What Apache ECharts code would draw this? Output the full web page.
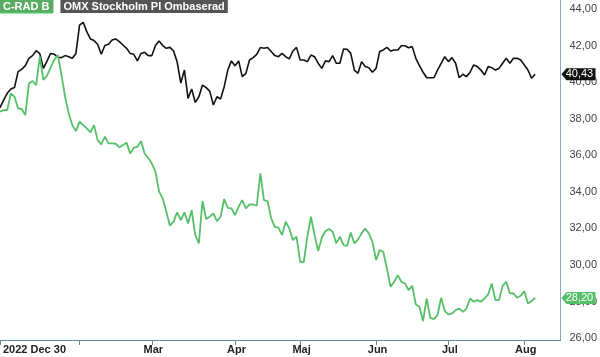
<!DOCTYPE html>
<html><head><meta charset="utf-8">
<script src="https://cdn.jsdelivr.net/npm/echarts@6/dist/echarts.min.js"></script>
<style>html,body{margin:0;padding:0;background:#fff}#c{width:600px;height:357px}</style>
</head><body><div id="c"></div>
<script>
const seriesNames = ['C-RAD B', 'OMX Stockholm PI Ombaserad'];
const cradValues = [
38.38,38.47,38.47,39.39,39.20,38.57,38.53,38.20,39.93,40.06,
39.84,41.39,40.12,40.35,40.79,41.21,41.48,40.40,39.20,38.29,
37.65,37.32,37.84,37.65,37.47,37.25,37.65,36.83,36.60,37.02,
36.65,36.65,36.63,36.43,36.56,36.69,36.10,36.41,36.47,36.78,
36.10,35.85,35.55,35.10,34.01,33.64,32.91,32.15,32.37,32.88,
32.46,32.88,32.27,33.00,31.64,31.18,33.50,32.51,32.64,32.82,
32.40,32.64,33.61,33.13,33.10,32.73,33.19,33.55,33.10,33.31,
33.31,33.24,35.01,33.55,33.50,32.55,32.09,32.04,31.64,32.37,
32.00,31.36,31.55,30.18,30.14,31.55,32.64,31.64,30.76,31.49,
31.86,31.97,31.82,31.18,31.55,31.09,31.05,31.78,31.18,31.40,
31.73,32.00,31.73,31.27,30.27,30.82,30.72,29.81,28.81,29.08,
29.45,29.08,28.99,28.63,28.86,27.84,27.72,26.93,28.17,27.11,
27.04,27.26,28.21,27.48,27.30,27.35,27.53,27.62,27.44,27.62,
28.17,27.99,28.08,27.99,28.17,28.39,28.99,28.08,28.08,28.86,
29.08,28.45,28.45,28.21,28.32,28.57,27.90,28.03,28.20
];
const omxValues = [
38.60,39.02,39.39,39.62,39.70,40.57,40.70,40.90,41.30,41.45,
41.72,41.56,40.75,41.15,41.57,41.52,41.36,41.34,41.45,41.39,
41.30,41.57,43.12,43.27,42.76,42.36,42.27,42.07,41.52,42.00,
42.07,42.30,42.36,42.21,42.03,41.85,41.57,41.52,41.16,41.57,
41.63,41.45,41.45,42.00,42.25,42.00,41.85,41.90,41.70,41.10,
39.95,40.66,39.11,39.62,38.89,39.20,39.84,39.70,39.51,38.75,
39.20,39.08,39.75,40.66,41.16,40.90,41.16,40.30,40.48,41.21,
41.34,41.52,41.89,41.85,41.89,41.67,41.45,41.39,41.57,41.39,
41.27,41.70,41.90,41.21,41.21,41.12,41.48,41.39,41.03,40.75,
41.16,41.12,41.45,41.03,41.03,41.81,41.79,41.57,40.66,40.48,
41.12,40.85,40.79,40.54,40.75,41.67,41.76,41.90,41.70,41.76,
41.76,41.99,41.99,41.88,41.94,41.30,40.90,40.54,40.24,40.24,
40.24,40.66,41.03,41.39,41.12,41.34,41.03,40.24,40.43,40.30,
40.54,40.94,40.85,40.66,40.39,40.85,40.79,40.66,40.75,41.03,
41.30,41.03,41.30,41.30,41.21,40.94,40.66,40.21,40.43
];
const tickDates = ['2022-12-30','2023-02-01','2023-03-01','2023-04-03','2023-05-02','2023-06-01','2023-07-03','2023-08-01'];
const tickLabels = ['2022 Dec 30','','Mar','Apr','Maj','Jun','Jul','Aug'];
const holidays = ['2023-01-06','2023-04-07','2023-04-10','2023-05-01','2023-05-18','2023-06-06','2023-06-23'];
const firstDate = '2022-12-30', lastDate = '2023-08-15';

function tradingDays(){
  const out = [];
  const d = new Date(firstDate + 'T12:00:00Z');
  const end = new Date(lastDate + 'T12:00:00Z');
  while (d <= end) {
    const s = d.toISOString().slice(0,10);
    const wd = d.getUTCDay();
    if (wd !== 0 && wd !== 6 && !holidays.includes(s)) out.push(s);
    d.setUTCDate(d.getUTCDate()+1);
  }
  return out;
}
const categories = tradingDays();

const GREEN = '#55c068', GREEN_BOX = '#5bab63', BLACK = '#111111', AXIS = '#5b89ad';
const FONT = '"Liberation Sans", Arial, sans-serif';
const fmt = v => v.toFixed(2).replace('.', ',');

const chart = echarts.init(document.getElementById('c'), null, {renderer:'canvas'});
chart.setOption({
  animation: false,
  grid: {left: -2, right: 34, top: 0, bottom: 17, containLabel: false},
  legend: {
    left: -5, top: 0, padding: 0, itemGap: 2, itemWidth: 0, itemHeight: 0, icon: 'rect', selectedMode: false,
    data: [
      {name: seriesNames[0], textStyle: {backgroundColor: GREEN_BOX, borderColor: GREEN_BOX, padding: [1,4,1,3]}},
      {name: seriesNames[1], textStyle: {backgroundColor: '#555555', borderColor: '#555555'}}
    ],
    textStyle: {color: '#fff', fontWeight: 'bold', fontSize: 11, fontFamily: FONT, padding: [1,3,1,3], lineHeight: 11}
  },
  xAxis: {
    type: 'category', data: categories, boundaryGap: false,
    axisLine: {lineStyle: {color: AXIS, width: 1}},
    axisTick: {length: 5, interval: (i, v) => tickDates.includes(v), lineStyle: {color: AXIS}},
    axisLabel: {
      interval: (i, v) => tickDates.includes(v),
      formatter: v => { const k = tickDates.indexOf(v); return k >= 0 ? tickLabels[k] : ''; },
      fontWeight: 'bold', fontSize: 11, color: '#222', fontFamily: FONT, margin: 4,
      alignMinLabel: 'left', padding: [0,0,0,3]
    },
    splitLine: {show: false}
  },
  yAxis: {
    type: 'value', position: 'right', min: 25.9, max: 44.49, splitNumber: 9, scale: true,
    axisLine: {show: true, lineStyle: {color: '#8aa8c4', width: 1}},
    axisTick: {show: false},
    splitLine: {show: false},
    axisLabel: {
      showMinLabel: false, showMaxLabel: false, margin: 9, fontSize: 11, color: '#444', fontFamily: FONT,
      formatter: v => (Math.abs(v/2 - Math.round(v/2)) < 1e-6) ? fmt(v) : ''
    }
  },
  series: [
    {name: seriesNames[1], type: 'line', data: omxValues, symbol: 'none', lineStyle: {color: BLACK, width: 1.6}, itemStyle: {color: '#555555'}},
    {name: seriesNames[0], type: 'line', data: cradValues, symbol: 'none', lineStyle: {color: GREEN, width: 1.8}, itemStyle: {color: GREEN_BOX}}
  ]
});

function badge(value, color) {
  const y = chart.convertToPixel({yAxisIndex: 0}, value);
  const x0 = chart.convertToPixel({xAxisIndex: 0}, categories[categories.length - 1]) + 1;
  return [
    {type: 'polygon', shape: {points: [[x0, y], [x0 + 5, y - 6], [x0 + 34, y - 6], [x0 + 34, y + 6], [x0 + 5, y + 6]]}, style: {fill: color}, z: 100},
    {type: 'text', x: x0 + 18, y: y, style: {text: fmt(value), fill: '#fff', font: '11px ' + FONT, align: 'center', verticalAlign: 'middle'}, z: 101}
  ];
}
const legendUnderline = {type: 'rect', shape: {x: 0, y: 12, width: 53, height: 1.5}, style: {fill: '#4cc75e'}, z: 100};
chart.setOption({graphic: [...badge(omxValues[omxValues.length-1], BLACK), ...badge(cradValues[cradValues.length-1], GREEN), legendUnderline]});
</script></body></html>
